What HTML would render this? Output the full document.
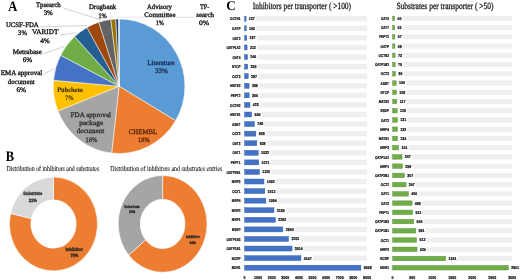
<!DOCTYPE html>
<html><head><meta charset="utf-8"><style>
html,body{margin:0;padding:0;background:#fff;width:520px;height:280px;overflow:hidden}
svg{display:block;will-change:transform}
text{text-rendering:geometricPrecision}
.serif{font-family:"Liberation Serif",serif}
.sans{font-family:"Liberation Sans",sans-serif}
</style></head><body>
<svg width="520" height="280" viewBox="0 0 520 280">
<path d="M119.10,86.20 L119.10,18.90 A65.80,67.30 0 0 1 175.63,120.64 Z" fill="#5B9BD5" stroke="#fff" stroke-width="0.5" stroke-linejoin="round"/>
<path d="M119.10,86.20 L175.63,120.64 A65.80,67.30 0 0 1 111.67,153.07 Z" fill="#ED7D31" stroke="#fff" stroke-width="0.5" stroke-linejoin="round"/>
<path d="M119.10,86.20 L111.67,153.07 A65.80,67.30 0 0 1 57.92,110.97 Z" fill="#A5A5A5" stroke="#fff" stroke-width="0.5" stroke-linejoin="round"/>
<path d="M119.10,86.20 L57.92,110.97 A65.80,67.30 0 0 1 53.55,80.29 Z" fill="#FFC000" stroke="#fff" stroke-width="0.5" stroke-linejoin="round"/>
<path d="M119.10,86.20 L53.55,80.29 A65.80,67.30 0 0 1 60.66,55.27 Z" fill="#4472C4" stroke="#fff" stroke-width="0.5" stroke-linejoin="round"/>
<path d="M119.10,86.20 L60.66,55.27 A65.80,67.30 0 0 1 74.66,36.57 Z" fill="#70AD47" stroke="#fff" stroke-width="0.5" stroke-linejoin="round"/>
<path d="M119.10,86.20 L74.66,36.57 A65.80,67.30 0 0 1 87.04,27.43 Z" fill="#255E91" stroke="#fff" stroke-width="0.5" stroke-linejoin="round"/>
<path d="M119.10,86.20 L87.04,27.43 A65.80,67.30 0 0 1 98.77,22.19 Z" fill="#9E480E" stroke="#fff" stroke-width="0.5" stroke-linejoin="round"/>
<path d="M119.10,86.20 L98.77,22.19 A65.80,67.30 0 0 1 110.85,19.43 Z" fill="#636363" stroke="#fff" stroke-width="0.5" stroke-linejoin="round"/>
<path d="M119.10,86.20 L110.85,19.43 A65.80,67.30 0 0 1 115.79,18.99 Z" fill="#997300" stroke="#fff" stroke-width="0.5" stroke-linejoin="round"/>
<path d="M119.10,86.20 L115.79,18.99 A65.80,67.30 0 0 1 118.81,18.90 Z" fill="#264478" stroke="#fff" stroke-width="0.5" stroke-linejoin="round"/>
<path d="M119.10,86.20 L118.81,18.90 A65.80,67.30 0 0 1 119.10,18.90 Z" fill="#FFFFFF" stroke="#fff" stroke-width="0.5" stroke-linejoin="round"/>
<g stroke="#BDBDBD" stroke-width="0.7" fill="none">
<line x1="63" y1="8" x2="101" y2="20"/>
<line x1="39.5" y1="26.8" x2="87" y2="25.6"/>
<line x1="60" y1="35" x2="76" y2="32.8"/>
<line x1="43" y1="54" x2="64" y2="46.5"/>
<line x1="43.6" y1="74.3" x2="55" y2="67.9"/>
<line x1="118" y1="17.2" x2="144" y2="17.2" stroke="#DDDDDD"/>
<line x1="108.5" y1="16.9" x2="113" y2="17.4" stroke="#D8D8D8"/>
<line x1="175.8" y1="17.3" x2="194" y2="17.3" stroke="#D0D0D0"/>
</g>
<text transform="translate(12.70 10.60) scale(0.08681 0.1)" class="serif" font-size="144.0" fill="#000" text-anchor="middle" font-weight="bold">A</text>
<text transform="translate(9.95 160.50) scale(0.08603 0.1)" class="serif" font-size="144.0" fill="#000" text-anchor="middle" font-weight="bold">B</text>
<text transform="translate(231.05 10.40) scale(0.09743 0.1)" class="serif" font-size="134.0" fill="#000" text-anchor="middle" font-weight="bold">C</text>
<text transform="translate(48.30 7.35) scale(0.09741 0.1)" class="serif" font-size="69.0" fill="#1A1A1A" stroke="#1A1A1A" stroke-width="3.5" text-anchor="middle" font-weight="normal">Tpsearch</text>
<text transform="translate(48.25 15.40) scale(0.09916 0.1)" class="serif" font-size="69.0" fill="#1A1A1A" stroke="#1A1A1A" stroke-width="3.5" text-anchor="middle" font-weight="normal">3%</text>
<text transform="translate(102.60 9.00) scale(0.09928 0.1)" class="serif" font-size="69.0" fill="#1A1A1A" stroke="#1A1A1A" stroke-width="3.5" text-anchor="middle" font-weight="normal">Drugbank</text>
<text transform="translate(102.65 17.50) scale(0.09044 0.1)" class="serif" font-size="69.0" fill="#1A1A1A" stroke="#1A1A1A" stroke-width="3.5" text-anchor="middle" font-weight="normal">1%</text>
<text transform="translate(159.40 8.80) scale(0.09584 0.1)" class="serif" font-size="69.0" fill="#1A1A1A" stroke="#1A1A1A" stroke-width="3.5" text-anchor="middle" font-weight="normal">Advisory</text>
<text transform="translate(159.90 16.50) scale(0.10249 0.1)" class="serif" font-size="69.0" fill="#1A1A1A" stroke="#1A1A1A" stroke-width="3.5" text-anchor="middle" font-weight="normal">Committee</text>
<text transform="translate(159.90 25.20) scale(0.08935 0.1)" class="serif" font-size="69.0" fill="#1A1A1A" stroke="#1A1A1A" stroke-width="3.5" text-anchor="middle" font-weight="normal">1%</text>
<text transform="translate(204.60 8.80) scale(0.08889 0.1)" class="serif" font-size="69.0" fill="#1A1A1A" stroke="#1A1A1A" stroke-width="3.5" text-anchor="middle" font-weight="normal">TP-</text>
<text transform="translate(205.10 16.80) scale(0.10117 0.1)" class="serif" font-size="69.0" fill="#1A1A1A" stroke="#1A1A1A" stroke-width="3.5" text-anchor="middle" font-weight="normal">search</text>
<text transform="translate(204.10 25.30) scale(0.11115 0.1)" class="serif" font-size="69.0" fill="#1A1A1A" stroke="#1A1A1A" stroke-width="3.5" text-anchor="middle" font-weight="normal">0%</text>
<text transform="translate(22.30 27.10) scale(0.09842 0.1)" class="serif" font-size="69.0" fill="#1A1A1A" stroke="#1A1A1A" stroke-width="3.5" text-anchor="middle" font-weight="normal">UCSF-FDA</text>
<text transform="translate(22.50 35.00) scale(0.09589 0.1)" class="serif" font-size="69.0" fill="#1A1A1A" stroke="#1A1A1A" stroke-width="3.5" text-anchor="middle" font-weight="normal">3%</text>
<text transform="translate(45.15 34.40) scale(0.10522 0.1)" class="serif" font-size="69.0" fill="#1A1A1A" stroke="#1A1A1A" stroke-width="3.5" text-anchor="middle" font-weight="normal">VARIDT</text>
<text transform="translate(45.00 43.00) scale(0.10461 0.1)" class="serif" font-size="69.0" fill="#1A1A1A" stroke="#1A1A1A" stroke-width="3.5" text-anchor="middle" font-weight="normal">4%</text>
<text transform="translate(27.25 54.00) scale(0.10138 0.1)" class="serif" font-size="69.0" fill="#1A1A1A" stroke="#1A1A1A" stroke-width="3.5" text-anchor="middle" font-weight="normal">Metrabase</text>
<text transform="translate(27.50 61.80) scale(0.10461 0.1)" class="serif" font-size="69.0" fill="#1A1A1A" stroke="#1A1A1A" stroke-width="3.5" text-anchor="middle" font-weight="normal">6%</text>
<text transform="translate(21.50 75.30) scale(0.10184 0.1)" class="serif" font-size="69.0" fill="#1A1A1A" stroke="#1A1A1A" stroke-width="3.5" text-anchor="middle" font-weight="normal">EMA approval</text>
<text transform="translate(21.25 83.50) scale(0.09943 0.1)" class="serif" font-size="69.0" fill="#1A1A1A" stroke="#1A1A1A" stroke-width="3.5" text-anchor="middle" font-weight="normal">document</text>
<text transform="translate(21.25 91.80) scale(0.10461 0.1)" class="serif" font-size="69.0" fill="#1A1A1A" stroke="#1A1A1A" stroke-width="3.5" text-anchor="middle" font-weight="normal">6%</text>
<text transform="translate(160.95 65.00) scale(0.10042 0.1)" class="serif" font-size="69.0" fill="#17325A" stroke="#17325A" stroke-width="3.5" text-anchor="middle" font-weight="normal">Literature</text>
<text transform="translate(161.40 73.20) scale(0.10137 0.1)" class="serif" font-size="69.0" fill="#17325A" stroke="#17325A" stroke-width="3.5" text-anchor="middle" font-weight="normal">33%</text>
<text transform="translate(143.05 133.50) scale(0.09905 0.1)" class="serif" font-size="69.0" fill="#5A2206" stroke="#5A2206" stroke-width="3.0" text-anchor="middle" font-weight="normal">CHEMBL</text>
<text transform="translate(143.95 141.70) scale(0.09266 0.1)" class="serif" font-size="69.0" fill="#5A2206" stroke="#5A2206" stroke-width="3.0" text-anchor="middle" font-weight="normal">18%</text>
<text transform="translate(90.80 117.10) scale(0.10290 0.1)" class="serif" font-size="69.0" fill="#2E2E2E" stroke="#2E2E2E" stroke-width="3.0" text-anchor="middle" font-weight="normal">FDA approval</text>
<text transform="translate(91.20 125.10) scale(0.10604 0.1)" class="serif" font-size="69.0" fill="#2E2E2E" stroke="#2E2E2E" stroke-width="3.0" text-anchor="middle" font-weight="normal">package</text>
<text transform="translate(90.45 133.20) scale(0.10017 0.1)" class="serif" font-size="69.0" fill="#2E2E2E" stroke="#2E2E2E" stroke-width="3.0" text-anchor="middle" font-weight="normal">document</text>
<text transform="translate(91.40 141.80) scale(0.09187 0.1)" class="serif" font-size="69.0" fill="#2E2E2E" stroke="#2E2E2E" stroke-width="3.0" text-anchor="middle" font-weight="normal">18%</text>
<text transform="translate(69.95 92.00) scale(0.09239 0.1)" class="serif" font-size="69.0" fill="#3A2C00" stroke="#3A2C00" stroke-width="1.5" text-anchor="middle" font-weight="bold">Pubchem</text>
<text transform="translate(69.50 99.70) scale(0.08309 0.1)" class="serif" font-size="69.0" fill="#3A2C00" stroke="#3A2C00" stroke-width="1.5" text-anchor="middle" font-weight="bold">7%</text>
<path d="M53.50,177.10 A44.00,46.90 0 1 1 10.62,213.48 L31.43,218.58 A22.65,24.15 0 1 0 53.50,199.85 Z" fill="#ED7D31" stroke="#fff" stroke-width="0.6"/>
<path d="M10.62,213.48 A44.00,46.90 0 0 1 53.50,177.10 L53.50,199.85 A22.65,24.15 0 0 0 31.43,218.58 Z" fill="#D9D9D9" stroke="#fff" stroke-width="0.6"/>
<path d="M162.60,175.60 A44.40,48.30 0 1 1 128.75,255.15 L145.56,239.85 A22.35,24.65 0 1 0 162.60,199.25 Z" fill="#ED7D31" stroke="#fff" stroke-width="0.6"/>
<path d="M128.75,255.15 A44.40,48.30 0 0 1 162.60,175.60 L162.60,199.25 A22.35,24.65 0 0 0 145.56,239.85 Z" fill="#A5A5A5" stroke="#fff" stroke-width="0.6"/>
<text transform="translate(52.85 170.80) scale(0.07778 0.1)" class="serif" font-size="75.0" fill="#222" stroke="#222" stroke-width="1.2" text-anchor="middle" font-weight="normal">Distribution of inhibitors and substrates</text>
<text transform="translate(166.35 171.20) scale(0.07950 0.1)" class="serif" font-size="75.0" fill="#222" stroke="#222" stroke-width="1.2" text-anchor="middle" font-weight="normal">Distribution of inhibitors and substrates entries</text>
<text transform="translate(32.75 195.30) scale(0.08541 0.1)" class="sans" font-size="48.0" fill="#262626" stroke="#262626" stroke-width="3.0" text-anchor="middle" font-weight="bold">Substrate</text>
<text transform="translate(32.80 201.60) scale(0.08542 0.1)" class="sans" font-size="48.0" fill="#262626" stroke="#262626" stroke-width="3.0" text-anchor="middle" font-weight="bold">21%</text>
<text transform="translate(74.20 250.60) scale(0.09063 0.1)" class="sans" font-size="48.0" fill="#262626" stroke="#262626" stroke-width="3.0" text-anchor="middle" font-weight="bold">Inhibitor</text>
<text transform="translate(74.35 257.20) scale(0.08229 0.1)" class="sans" font-size="48.0" fill="#262626" stroke="#262626" stroke-width="3.0" text-anchor="middle" font-weight="bold">79%</text>
<text transform="translate(132.00 207.50) scale(0.08791 0.1)" class="sans" font-size="38.0" fill="#262626" stroke="#262626" stroke-width="3.0" text-anchor="middle" font-weight="bold">Substrate</text>
<text transform="translate(132.15 212.90) scale(0.08026 0.1)" class="sans" font-size="38.0" fill="#262626" stroke="#262626" stroke-width="3.0" text-anchor="middle" font-weight="bold">36%</text>
<text transform="translate(192.85 238.40) scale(0.09145 0.1)" class="sans" font-size="38.0" fill="#262626" stroke="#262626" stroke-width="3.0" text-anchor="middle" font-weight="bold">Inhibitor</text>
<text transform="translate(192.65 243.70) scale(0.08289 0.1)" class="sans" font-size="38.0" fill="#262626" stroke="#262626" stroke-width="3.0" text-anchor="middle" font-weight="bold">64%</text>
<rect x="256.02" y="16.05" width="110.98" height="5.40" fill="#EFEFEF"/>
<rect x="244.60" y="16.25" width="1.47" height="5.00" fill="#4472C4" stroke="#3462B0" stroke-width="0.45"/>
<rect x="256.20" y="25.62" width="110.80" height="5.40" fill="#EFEFEF"/>
<rect x="244.60" y="25.82" width="1.64" height="5.00" fill="#4472C4" stroke="#3462B0" stroke-width="0.45"/>
<rect x="256.70" y="35.20" width="110.30" height="5.40" fill="#EFEFEF"/>
<rect x="244.60" y="35.40" width="2.15" height="5.00" fill="#4472C4" stroke="#3462B0" stroke-width="0.45"/>
<rect x="257.04" y="44.77" width="109.96" height="5.40" fill="#EFEFEF"/>
<rect x="244.60" y="44.97" width="2.49" height="5.00" fill="#4472C4" stroke="#3462B0" stroke-width="0.45"/>
<rect x="257.51" y="54.35" width="109.49" height="5.40" fill="#EFEFEF"/>
<rect x="244.60" y="54.55" width="2.95" height="5.00" fill="#4472C4" stroke="#3462B0" stroke-width="0.45"/>
<rect x="257.63" y="63.92" width="109.37" height="5.40" fill="#EFEFEF"/>
<rect x="244.60" y="64.12" width="3.07" height="5.00" fill="#4472C4" stroke="#3462B0" stroke-width="0.45"/>
<rect x="258.20" y="73.50" width="108.80" height="5.40" fill="#EFEFEF"/>
<rect x="244.60" y="73.70" width="3.65" height="5.00" fill="#4472C4" stroke="#3462B0" stroke-width="0.45"/>
<rect x="259.05" y="83.07" width="107.95" height="5.40" fill="#EFEFEF"/>
<rect x="244.60" y="83.27" width="4.49" height="5.00" fill="#4472C4" stroke="#3462B0" stroke-width="0.45"/>
<rect x="259.14" y="92.65" width="107.86" height="5.40" fill="#EFEFEF"/>
<rect x="244.60" y="92.85" width="4.58" height="5.00" fill="#4472C4" stroke="#3462B0" stroke-width="0.45"/>
<rect x="259.92" y="102.22" width="107.08" height="5.40" fill="#EFEFEF"/>
<rect x="244.60" y="102.42" width="5.36" height="5.00" fill="#4472C4" stroke="#3462B0" stroke-width="0.45"/>
<rect x="261.58" y="111.80" width="105.42" height="5.40" fill="#EFEFEF"/>
<rect x="244.60" y="112.00" width="7.02" height="5.00" fill="#4472C4" stroke="#3462B0" stroke-width="0.45"/>
<rect x="264.36" y="121.37" width="102.64" height="5.40" fill="#EFEFEF"/>
<rect x="244.60" y="121.57" width="9.80" height="5.00" fill="#4472C4" stroke="#3462B0" stroke-width="0.45"/>
<rect x="265.84" y="130.95" width="101.16" height="5.40" fill="#EFEFEF"/>
<rect x="244.60" y="131.15" width="11.29" height="5.00" fill="#4472C4" stroke="#3462B0" stroke-width="0.45"/>
<rect x="266.80" y="140.53" width="100.20" height="5.40" fill="#EFEFEF"/>
<rect x="244.60" y="140.72" width="12.24" height="5.00" fill="#4472C4" stroke="#3462B0" stroke-width="0.45"/>
<rect x="270.20" y="150.10" width="96.80" height="5.40" fill="#EFEFEF"/>
<rect x="244.60" y="150.30" width="13.66" height="5.00" fill="#4472C4" stroke="#3462B0" stroke-width="0.45"/>
<rect x="270.73" y="159.68" width="96.27" height="5.40" fill="#EFEFEF"/>
<rect x="244.60" y="159.88" width="14.19" height="5.00" fill="#4472C4" stroke="#3462B0" stroke-width="0.45"/>
<rect x="271.28" y="169.25" width="95.72" height="5.40" fill="#EFEFEF"/>
<rect x="244.60" y="169.45" width="14.94" height="5.00" fill="#4472C4" stroke="#3462B0" stroke-width="0.45"/>
<rect x="275.92" y="178.82" width="91.08" height="5.40" fill="#EFEFEF"/>
<rect x="244.60" y="179.02" width="19.38" height="5.00" fill="#4472C4" stroke="#3462B0" stroke-width="0.45"/>
<rect x="276.73" y="188.40" width="90.27" height="5.40" fill="#EFEFEF"/>
<rect x="244.60" y="188.60" width="20.19" height="5.00" fill="#4472C4" stroke="#3462B0" stroke-width="0.45"/>
<rect x="277.85" y="197.97" width="89.15" height="5.40" fill="#EFEFEF"/>
<rect x="244.60" y="198.17" width="21.31" height="5.00" fill="#4472C4" stroke="#3462B0" stroke-width="0.45"/>
<rect x="285.90" y="207.55" width="81.10" height="5.40" fill="#EFEFEF"/>
<rect x="244.60" y="207.75" width="29.36" height="5.00" fill="#4472C4" stroke="#3462B0" stroke-width="0.45"/>
<rect x="287.36" y="217.12" width="79.64" height="5.40" fill="#EFEFEF"/>
<rect x="244.60" y="217.32" width="30.82" height="5.00" fill="#4472C4" stroke="#3462B0" stroke-width="0.45"/>
<rect x="294.82" y="226.70" width="72.18" height="5.40" fill="#EFEFEF"/>
<rect x="244.60" y="226.90" width="38.28" height="5.00" fill="#4472C4" stroke="#3462B0" stroke-width="0.45"/>
<rect x="300.56" y="236.28" width="66.44" height="5.40" fill="#EFEFEF"/>
<rect x="244.60" y="236.47" width="44.01" height="5.00" fill="#4472C4" stroke="#3462B0" stroke-width="0.45"/>
<rect x="304.00" y="245.85" width="63.00" height="5.40" fill="#EFEFEF"/>
<rect x="244.60" y="246.05" width="47.46" height="5.00" fill="#4472C4" stroke="#3462B0" stroke-width="0.45"/>
<rect x="312.90" y="255.43" width="54.10" height="5.40" fill="#EFEFEF"/>
<rect x="244.60" y="255.62" width="56.35" height="5.00" fill="#4472C4" stroke="#3462B0" stroke-width="0.45"/>
<rect x="372.84" y="265.00" width="-5.84" height="5.40" fill="#EFEFEF"/>
<rect x="244.60" y="265.20" width="116.30" height="5.00" fill="#4472C4" stroke="#3462B0" stroke-width="0.45"/>
<text transform="translate(240.50 20.35) scale(0.07400 0.1)" class="sans" font-size="42.0" fill="#111" stroke="#111" stroke-width="2.2" text-anchor="end" font-weight="bold">OCTN1</text>
<text transform="translate(248.87 20.15) scale(0.08500 0.1)" class="sans" font-size="42.0" fill="#111" stroke="#111" stroke-width="2.2" text-anchor="start" font-weight="bold">137</text>
<text transform="translate(240.50 29.93) scale(0.07400 0.1)" class="sans" font-size="42.0" fill="#111" stroke="#111" stroke-width="2.2" text-anchor="end" font-weight="bold">OATP</text>
<text transform="translate(249.04 29.72) scale(0.08500 0.1)" class="sans" font-size="42.0" fill="#111" stroke="#111" stroke-width="2.2" text-anchor="start" font-weight="bold">150</text>
<text transform="translate(240.50 39.50) scale(0.07400 0.1)" class="sans" font-size="42.0" fill="#111" stroke="#111" stroke-width="2.2" text-anchor="end" font-weight="bold">OAT2</text>
<text transform="translate(249.55 39.30) scale(0.08500 0.1)" class="sans" font-size="42.0" fill="#111" stroke="#111" stroke-width="2.2" text-anchor="start" font-weight="bold">187</text>
<text transform="translate(240.50 49.07) scale(0.07400 0.1)" class="sans" font-size="42.0" fill="#111" stroke="#111" stroke-width="2.2" text-anchor="end" font-weight="bold">OATP1A2</text>
<text transform="translate(249.89 48.87) scale(0.08500 0.1)" class="sans" font-size="42.0" fill="#111" stroke="#111" stroke-width="2.2" text-anchor="start" font-weight="bold">212</text>
<text transform="translate(240.50 58.65) scale(0.07400 0.1)" class="sans" font-size="42.0" fill="#111" stroke="#111" stroke-width="2.2" text-anchor="end" font-weight="bold">OAT4</text>
<text transform="translate(250.35 58.45) scale(0.08500 0.1)" class="sans" font-size="42.0" fill="#111" stroke="#111" stroke-width="2.2" text-anchor="start" font-weight="bold">246</text>
<text transform="translate(240.50 68.22) scale(0.07400 0.1)" class="sans" font-size="42.0" fill="#111" stroke="#111" stroke-width="2.2" text-anchor="end" font-weight="bold">NTCP</text>
<text transform="translate(250.47 68.03) scale(0.08500 0.1)" class="sans" font-size="42.0" fill="#111" stroke="#111" stroke-width="2.2" text-anchor="start" font-weight="bold">255</text>
<text transform="translate(240.50 77.80) scale(0.07400 0.1)" class="sans" font-size="42.0" fill="#111" stroke="#111" stroke-width="2.2" text-anchor="end" font-weight="bold">OCT3</text>
<text transform="translate(251.05 77.60) scale(0.08500 0.1)" class="sans" font-size="42.0" fill="#111" stroke="#111" stroke-width="2.2" text-anchor="start" font-weight="bold">297</text>
<text transform="translate(240.50 87.37) scale(0.07400 0.1)" class="sans" font-size="42.0" fill="#111" stroke="#111" stroke-width="2.2" text-anchor="end" font-weight="bold">MATE2</text>
<text transform="translate(251.89 87.17) scale(0.08500 0.1)" class="sans" font-size="42.0" fill="#111" stroke="#111" stroke-width="2.2" text-anchor="start" font-weight="bold">359</text>
<text transform="translate(240.50 96.95) scale(0.07400 0.1)" class="sans" font-size="42.0" fill="#111" stroke="#111" stroke-width="2.2" text-anchor="end" font-weight="bold">PEPT2</text>
<text transform="translate(251.98 96.75) scale(0.08500 0.1)" class="sans" font-size="42.0" fill="#111" stroke="#111" stroke-width="2.2" text-anchor="start" font-weight="bold">366</text>
<text transform="translate(240.50 106.52) scale(0.07400 0.1)" class="sans" font-size="42.0" fill="#111" stroke="#111" stroke-width="2.2" text-anchor="end" font-weight="bold">OCTN2</text>
<text transform="translate(252.76 106.33) scale(0.08500 0.1)" class="sans" font-size="42.0" fill="#111" stroke="#111" stroke-width="2.2" text-anchor="start" font-weight="bold">423</text>
<text transform="translate(240.50 116.10) scale(0.07400 0.1)" class="sans" font-size="42.0" fill="#111" stroke="#111" stroke-width="2.2" text-anchor="end" font-weight="bold">MATE1</text>
<text transform="translate(254.42 115.90) scale(0.08500 0.1)" class="sans" font-size="42.0" fill="#111" stroke="#111" stroke-width="2.2" text-anchor="start" font-weight="bold">545</text>
<text transform="translate(240.50 125.67) scale(0.07400 0.1)" class="sans" font-size="42.0" fill="#111" stroke="#111" stroke-width="2.2" text-anchor="end" font-weight="bold">ASBT</text>
<text transform="translate(257.20 125.47) scale(0.08500 0.1)" class="sans" font-size="42.0" fill="#111" stroke="#111" stroke-width="2.2" text-anchor="start" font-weight="bold">749</text>
<text transform="translate(240.50 135.25) scale(0.07400 0.1)" class="sans" font-size="42.0" fill="#111" stroke="#111" stroke-width="2.2" text-anchor="end" font-weight="bold">OCT2</text>
<text transform="translate(258.69 135.05) scale(0.08500 0.1)" class="sans" font-size="42.0" fill="#111" stroke="#111" stroke-width="2.2" text-anchor="start" font-weight="bold">858</text>
<text transform="translate(240.50 144.82) scale(0.07400 0.1)" class="sans" font-size="42.0" fill="#111" stroke="#111" stroke-width="2.2" text-anchor="end" font-weight="bold">OAT3</text>
<text transform="translate(259.64 144.62) scale(0.08500 0.1)" class="sans" font-size="42.0" fill="#111" stroke="#111" stroke-width="2.2" text-anchor="start" font-weight="bold">928</text>
<text transform="translate(240.50 154.40) scale(0.07400 0.1)" class="sans" font-size="42.0" fill="#111" stroke="#111" stroke-width="2.2" text-anchor="end" font-weight="bold">OAT1</text>
<text transform="translate(261.06 154.20) scale(0.08500 0.1)" class="sans" font-size="42.0" fill="#111" stroke="#111" stroke-width="2.2" text-anchor="start" font-weight="bold">1032</text>
<text transform="translate(240.50 163.97) scale(0.07400 0.1)" class="sans" font-size="42.0" fill="#111" stroke="#111" stroke-width="2.2" text-anchor="end" font-weight="bold">PEPT1</text>
<text transform="translate(261.59 163.78) scale(0.08500 0.1)" class="sans" font-size="42.0" fill="#111" stroke="#111" stroke-width="2.2" text-anchor="start" font-weight="bold">1071</text>
<text transform="translate(240.50 173.55) scale(0.07400 0.1)" class="sans" font-size="42.0" fill="#111" stroke="#111" stroke-width="2.2" text-anchor="end" font-weight="bold">OATP2B1</text>
<text transform="translate(262.34 173.35) scale(0.08500 0.1)" class="sans" font-size="42.0" fill="#111" stroke="#111" stroke-width="2.2" text-anchor="start" font-weight="bold">1126</text>
<text transform="translate(240.50 183.12) scale(0.07400 0.1)" class="sans" font-size="42.0" fill="#111" stroke="#111" stroke-width="2.2" text-anchor="end" font-weight="bold">MRP3</text>
<text transform="translate(266.78 182.92) scale(0.08500 0.1)" class="sans" font-size="42.0" fill="#111" stroke="#111" stroke-width="2.2" text-anchor="start" font-weight="bold">1452</text>
<text transform="translate(240.50 192.70) scale(0.07400 0.1)" class="sans" font-size="42.0" fill="#111" stroke="#111" stroke-width="2.2" text-anchor="end" font-weight="bold">OCT1</text>
<text transform="translate(267.59 192.50) scale(0.08500 0.1)" class="sans" font-size="42.0" fill="#111" stroke="#111" stroke-width="2.2" text-anchor="start" font-weight="bold">1512</text>
<text transform="translate(240.50 202.27) scale(0.07400 0.1)" class="sans" font-size="42.0" fill="#111" stroke="#111" stroke-width="2.2" text-anchor="end" font-weight="bold">MRP4</text>
<text transform="translate(268.71 202.07) scale(0.08500 0.1)" class="sans" font-size="42.0" fill="#111" stroke="#111" stroke-width="2.2" text-anchor="start" font-weight="bold">1594</text>
<text transform="translate(240.50 211.85) scale(0.07400 0.1)" class="sans" font-size="42.0" fill="#111" stroke="#111" stroke-width="2.2" text-anchor="end" font-weight="bold">MRP2</text>
<text transform="translate(276.76 211.65) scale(0.08500 0.1)" class="sans" font-size="42.0" fill="#111" stroke="#111" stroke-width="2.2" text-anchor="start" font-weight="bold">2185</text>
<text transform="translate(240.50 221.42) scale(0.07400 0.1)" class="sans" font-size="42.0" fill="#111" stroke="#111" stroke-width="2.2" text-anchor="end" font-weight="bold">MRP1</text>
<text transform="translate(278.22 221.22) scale(0.08500 0.1)" class="sans" font-size="42.0" fill="#111" stroke="#111" stroke-width="2.2" text-anchor="start" font-weight="bold">2292</text>
<text transform="translate(240.50 231.00) scale(0.07400 0.1)" class="sans" font-size="42.0" fill="#111" stroke="#111" stroke-width="2.2" text-anchor="end" font-weight="bold">BSEP</text>
<text transform="translate(285.68 230.80) scale(0.08500 0.1)" class="sans" font-size="42.0" fill="#111" stroke="#111" stroke-width="2.2" text-anchor="start" font-weight="bold">2840</text>
<text transform="translate(240.50 240.57) scale(0.07400 0.1)" class="sans" font-size="42.0" fill="#111" stroke="#111" stroke-width="2.2" text-anchor="end" font-weight="bold">OATP1B3</text>
<text transform="translate(291.41 240.38) scale(0.08500 0.1)" class="sans" font-size="42.0" fill="#111" stroke="#111" stroke-width="2.2" text-anchor="start" font-weight="bold">3261</text>
<text transform="translate(240.50 250.15) scale(0.07400 0.1)" class="sans" font-size="42.0" fill="#111" stroke="#111" stroke-width="2.2" text-anchor="end" font-weight="bold">OATP1B1</text>
<text transform="translate(294.86 249.95) scale(0.08500 0.1)" class="sans" font-size="42.0" fill="#111" stroke="#111" stroke-width="2.2" text-anchor="start" font-weight="bold">3514</text>
<text transform="translate(240.50 259.73) scale(0.07400 0.1)" class="sans" font-size="42.0" fill="#111" stroke="#111" stroke-width="2.2" text-anchor="end" font-weight="bold">BCRP</text>
<text transform="translate(303.75 259.52) scale(0.08500 0.1)" class="sans" font-size="42.0" fill="#111" stroke="#111" stroke-width="2.2" text-anchor="start" font-weight="bold">4167</text>
<text transform="translate(240.50 269.30) scale(0.07400 0.1)" class="sans" font-size="42.0" fill="#111" stroke="#111" stroke-width="2.2" text-anchor="end" font-weight="bold">MDR1</text>
<text transform="translate(363.70 269.10) scale(0.08500 0.1)" class="sans" font-size="42.0" fill="#111" stroke="#111" stroke-width="2.2" text-anchor="start" font-weight="bold">8568</text>
<text transform="translate(244.40 278.90) scale(0.08500 0.1)" class="sans" font-size="42.0" fill="#111" stroke="#111" stroke-width="2.2" text-anchor="middle" font-weight="bold">0</text>
<text transform="translate(258.02 278.90) scale(0.08500 0.1)" class="sans" font-size="42.0" fill="#111" stroke="#111" stroke-width="2.2" text-anchor="middle" font-weight="bold">1000</text>
<text transform="translate(271.64 278.90) scale(0.08500 0.1)" class="sans" font-size="42.0" fill="#111" stroke="#111" stroke-width="2.2" text-anchor="middle" font-weight="bold">2000</text>
<text transform="translate(285.26 278.90) scale(0.08500 0.1)" class="sans" font-size="42.0" fill="#111" stroke="#111" stroke-width="2.2" text-anchor="middle" font-weight="bold">3000</text>
<text transform="translate(298.88 278.90) scale(0.08500 0.1)" class="sans" font-size="42.0" fill="#111" stroke="#111" stroke-width="2.2" text-anchor="middle" font-weight="bold">4000</text>
<text transform="translate(312.50 278.90) scale(0.08500 0.1)" class="sans" font-size="42.0" fill="#111" stroke="#111" stroke-width="2.2" text-anchor="middle" font-weight="bold">5000</text>
<text transform="translate(326.12 278.90) scale(0.08500 0.1)" class="sans" font-size="42.0" fill="#111" stroke="#111" stroke-width="2.2" text-anchor="middle" font-weight="bold">6000</text>
<text transform="translate(339.74 278.90) scale(0.08500 0.1)" class="sans" font-size="42.0" fill="#111" stroke="#111" stroke-width="2.2" text-anchor="middle" font-weight="bold">7000</text>
<text transform="translate(353.36 278.90) scale(0.08500 0.1)" class="sans" font-size="42.0" fill="#111" stroke="#111" stroke-width="2.2" text-anchor="middle" font-weight="bold">8000</text>
<text transform="translate(366.98 278.90) scale(0.08500 0.1)" class="sans" font-size="42.0" fill="#111" stroke="#111" stroke-width="2.2" text-anchor="middle" font-weight="bold">9000</text>
<rect x="402.56" y="15.95" width="109.44" height="4.90" fill="#EFEFEF"/>
<rect x="392.60" y="16.15" width="1.99" height="4.50" fill="#70AD47" stroke="#58923A" stroke-width="0.45"/>
<rect x="402.68" y="25.18" width="109.32" height="4.90" fill="#EFEFEF"/>
<rect x="392.60" y="25.38" width="2.11" height="4.50" fill="#70AD47" stroke="#58923A" stroke-width="0.45"/>
<rect x="402.84" y="34.42" width="109.16" height="4.90" fill="#EFEFEF"/>
<rect x="392.60" y="34.62" width="2.27" height="4.50" fill="#70AD47" stroke="#58923A" stroke-width="0.45"/>
<rect x="402.92" y="43.65" width="109.08" height="4.90" fill="#EFEFEF"/>
<rect x="392.60" y="43.85" width="2.35" height="4.50" fill="#70AD47" stroke="#58923A" stroke-width="0.45"/>
<rect x="403.08" y="52.89" width="108.92" height="4.90" fill="#EFEFEF"/>
<rect x="392.60" y="53.09" width="2.51" height="4.50" fill="#70AD47" stroke="#58923A" stroke-width="0.45"/>
<rect x="403.16" y="62.12" width="108.84" height="4.90" fill="#EFEFEF"/>
<rect x="392.60" y="62.32" width="2.59" height="4.50" fill="#70AD47" stroke="#58923A" stroke-width="0.45"/>
<rect x="403.60" y="71.36" width="108.40" height="4.90" fill="#EFEFEF"/>
<rect x="392.60" y="71.56" width="3.03" height="4.50" fill="#70AD47" stroke="#58923A" stroke-width="0.45"/>
<rect x="406.15" y="80.59" width="105.85" height="4.90" fill="#EFEFEF"/>
<rect x="392.60" y="80.79" width="3.59" height="4.50" fill="#70AD47" stroke="#58923A" stroke-width="0.45"/>
<rect x="406.46" y="89.83" width="105.54" height="4.90" fill="#EFEFEF"/>
<rect x="392.60" y="90.03" width="3.91" height="4.50" fill="#70AD47" stroke="#58923A" stroke-width="0.45"/>
<rect x="406.63" y="99.06" width="105.37" height="4.90" fill="#EFEFEF"/>
<rect x="392.60" y="99.26" width="4.27" height="4.50" fill="#70AD47" stroke="#58923A" stroke-width="0.45"/>
<rect x="407.14" y="108.30" width="104.86" height="4.90" fill="#EFEFEF"/>
<rect x="392.60" y="108.50" width="4.59" height="4.50" fill="#70AD47" stroke="#58923A" stroke-width="0.45"/>
<rect x="407.38" y="117.53" width="104.62" height="4.90" fill="#EFEFEF"/>
<rect x="392.60" y="117.73" width="4.83" height="4.50" fill="#70AD47" stroke="#58923A" stroke-width="0.45"/>
<rect x="407.42" y="126.77" width="104.58" height="4.90" fill="#EFEFEF"/>
<rect x="392.60" y="126.97" width="4.87" height="4.50" fill="#70AD47" stroke="#58923A" stroke-width="0.45"/>
<rect x="407.50" y="136.00" width="104.50" height="4.90" fill="#EFEFEF"/>
<rect x="392.60" y="136.20" width="4.95" height="4.50" fill="#70AD47" stroke="#58923A" stroke-width="0.45"/>
<rect x="408.58" y="145.24" width="103.42" height="4.90" fill="#EFEFEF"/>
<rect x="392.60" y="145.44" width="6.02" height="4.50" fill="#70AD47" stroke="#58923A" stroke-width="0.45"/>
<rect x="412.01" y="154.47" width="99.99" height="4.90" fill="#EFEFEF"/>
<rect x="392.60" y="154.67" width="9.46" height="4.50" fill="#70AD47" stroke="#58923A" stroke-width="0.45"/>
<rect x="412.49" y="163.71" width="99.51" height="4.90" fill="#EFEFEF"/>
<rect x="392.60" y="163.91" width="9.93" height="4.50" fill="#70AD47" stroke="#58923A" stroke-width="0.45"/>
<rect x="414.41" y="172.95" width="97.59" height="4.90" fill="#EFEFEF"/>
<rect x="392.60" y="173.15" width="11.85" height="4.50" fill="#70AD47" stroke="#58923A" stroke-width="0.45"/>
<rect x="416.00" y="182.18" width="96.00" height="4.90" fill="#EFEFEF"/>
<rect x="392.60" y="182.38" width="13.45" height="4.50" fill="#70AD47" stroke="#58923A" stroke-width="0.45"/>
<rect x="418.36" y="191.41" width="93.64" height="4.90" fill="#EFEFEF"/>
<rect x="392.60" y="191.61" width="15.80" height="4.50" fill="#70AD47" stroke="#58923A" stroke-width="0.45"/>
<rect x="422.03" y="200.65" width="89.97" height="4.90" fill="#EFEFEF"/>
<rect x="392.60" y="200.85" width="19.47" height="4.50" fill="#70AD47" stroke="#58923A" stroke-width="0.45"/>
<rect x="422.35" y="209.89" width="89.65" height="4.90" fill="#EFEFEF"/>
<rect x="392.60" y="210.09" width="19.99" height="4.50" fill="#70AD47" stroke="#58923A" stroke-width="0.45"/>
<rect x="423.70" y="219.12" width="88.30" height="4.90" fill="#EFEFEF"/>
<rect x="392.60" y="219.32" width="21.15" height="4.50" fill="#70AD47" stroke="#58923A" stroke-width="0.45"/>
<rect x="425.74" y="228.35" width="86.26" height="4.90" fill="#EFEFEF"/>
<rect x="392.60" y="228.55" width="23.18" height="4.50" fill="#70AD47" stroke="#58923A" stroke-width="0.45"/>
<rect x="426.57" y="237.59" width="85.43" height="4.90" fill="#EFEFEF"/>
<rect x="392.60" y="237.79" width="24.02" height="4.50" fill="#70AD47" stroke="#58923A" stroke-width="0.45"/>
<rect x="427.05" y="246.83" width="84.95" height="4.90" fill="#EFEFEF"/>
<rect x="392.60" y="247.03" width="24.50" height="4.50" fill="#70AD47" stroke="#58923A" stroke-width="0.45"/>
<rect x="457.65" y="256.06" width="54.35" height="4.90" fill="#EFEFEF"/>
<rect x="392.60" y="256.26" width="53.11" height="4.50" fill="#70AD47" stroke="#58923A" stroke-width="0.45"/>
<rect x="520.09" y="265.29" width="-8.09" height="4.90" fill="#EFEFEF"/>
<rect x="392.60" y="265.49" width="115.75" height="4.50" fill="#70AD47" stroke="#58923A" stroke-width="0.45"/>
<text transform="translate(389.00 20.00) scale(0.07400 0.1)" class="sans" font-size="42.0" fill="#111" stroke="#111" stroke-width="2.2" text-anchor="end" font-weight="bold">OAT4</text>
<text transform="translate(397.39 19.80) scale(0.08500 0.1)" class="sans" font-size="42.0" fill="#111" stroke="#111" stroke-width="2.2" text-anchor="start" font-weight="bold">60</text>
<text transform="translate(389.00 29.23) scale(0.07400 0.1)" class="sans" font-size="42.0" fill="#111" stroke="#111" stroke-width="2.2" text-anchor="end" font-weight="bold">OAT7</text>
<text transform="translate(397.51 29.03) scale(0.08500 0.1)" class="sans" font-size="42.0" fill="#111" stroke="#111" stroke-width="2.2" text-anchor="start" font-weight="bold">63</text>
<text transform="translate(389.00 38.47) scale(0.07400 0.1)" class="sans" font-size="42.0" fill="#111" stroke="#111" stroke-width="2.2" text-anchor="end" font-weight="bold">PEPT2</text>
<text transform="translate(397.67 38.27) scale(0.08500 0.1)" class="sans" font-size="42.0" fill="#111" stroke="#111" stroke-width="2.2" text-anchor="start" font-weight="bold">67</text>
<text transform="translate(389.00 47.70) scale(0.07400 0.1)" class="sans" font-size="42.0" fill="#111" stroke="#111" stroke-width="2.2" text-anchor="end" font-weight="bold">OATP</text>
<text transform="translate(397.75 47.50) scale(0.08500 0.1)" class="sans" font-size="42.0" fill="#111" stroke="#111" stroke-width="2.2" text-anchor="start" font-weight="bold">69</text>
<text transform="translate(389.00 56.94) scale(0.07400 0.1)" class="sans" font-size="42.0" fill="#111" stroke="#111" stroke-width="2.2" text-anchor="end" font-weight="bold">OCTN2</text>
<text transform="translate(397.91 56.74) scale(0.08500 0.1)" class="sans" font-size="42.0" fill="#111" stroke="#111" stroke-width="2.2" text-anchor="start" font-weight="bold">73</text>
<text transform="translate(389.00 66.17) scale(0.07400 0.1)" class="sans" font-size="42.0" fill="#111" stroke="#111" stroke-width="2.2" text-anchor="end" font-weight="bold">OATP1B2</text>
<text transform="translate(397.99 65.97) scale(0.08500 0.1)" class="sans" font-size="42.0" fill="#111" stroke="#111" stroke-width="2.2" text-anchor="start" font-weight="bold">75</text>
<text transform="translate(389.00 75.41) scale(0.07400 0.1)" class="sans" font-size="42.0" fill="#111" stroke="#111" stroke-width="2.2" text-anchor="end" font-weight="bold">OCT3</text>
<text transform="translate(398.43 75.21) scale(0.08500 0.1)" class="sans" font-size="42.0" fill="#111" stroke="#111" stroke-width="2.2" text-anchor="start" font-weight="bold">86</text>
<text transform="translate(389.00 84.64) scale(0.07400 0.1)" class="sans" font-size="42.0" fill="#111" stroke="#111" stroke-width="2.2" text-anchor="end" font-weight="bold">ASBT</text>
<text transform="translate(398.99 84.44) scale(0.08500 0.1)" class="sans" font-size="42.0" fill="#111" stroke="#111" stroke-width="2.2" text-anchor="start" font-weight="bold">100</text>
<text transform="translate(389.00 93.88) scale(0.07400 0.1)" class="sans" font-size="42.0" fill="#111" stroke="#111" stroke-width="2.2" text-anchor="end" font-weight="bold">NTCP</text>
<text transform="translate(399.31 93.68) scale(0.08500 0.1)" class="sans" font-size="42.0" fill="#111" stroke="#111" stroke-width="2.2" text-anchor="start" font-weight="bold">108</text>
<text transform="translate(389.00 103.11) scale(0.07400 0.1)" class="sans" font-size="42.0" fill="#111" stroke="#111" stroke-width="2.2" text-anchor="end" font-weight="bold">MATE2</text>
<text transform="translate(399.67 102.91) scale(0.08500 0.1)" class="sans" font-size="42.0" fill="#111" stroke="#111" stroke-width="2.2" text-anchor="start" font-weight="bold">117</text>
<text transform="translate(389.00 112.35) scale(0.07400 0.1)" class="sans" font-size="42.0" fill="#111" stroke="#111" stroke-width="2.2" text-anchor="end" font-weight="bold">BSEP</text>
<text transform="translate(399.99 112.15) scale(0.08500 0.1)" class="sans" font-size="42.0" fill="#111" stroke="#111" stroke-width="2.2" text-anchor="start" font-weight="bold">125</text>
<text transform="translate(389.00 121.58) scale(0.07400 0.1)" class="sans" font-size="42.0" fill="#111" stroke="#111" stroke-width="2.2" text-anchor="end" font-weight="bold">OAT2</text>
<text transform="translate(400.23 121.38) scale(0.08500 0.1)" class="sans" font-size="42.0" fill="#111" stroke="#111" stroke-width="2.2" text-anchor="start" font-weight="bold">131</text>
<text transform="translate(389.00 130.82) scale(0.07400 0.1)" class="sans" font-size="42.0" fill="#111" stroke="#111" stroke-width="2.2" text-anchor="end" font-weight="bold">MRP4</text>
<text transform="translate(400.27 130.62) scale(0.08500 0.1)" class="sans" font-size="42.0" fill="#111" stroke="#111" stroke-width="2.2" text-anchor="start" font-weight="bold">132</text>
<text transform="translate(389.00 140.05) scale(0.07400 0.1)" class="sans" font-size="42.0" fill="#111" stroke="#111" stroke-width="2.2" text-anchor="end" font-weight="bold">MATE1</text>
<text transform="translate(400.35 139.85) scale(0.08500 0.1)" class="sans" font-size="42.0" fill="#111" stroke="#111" stroke-width="2.2" text-anchor="start" font-weight="bold">134</text>
<text transform="translate(389.00 149.29) scale(0.07400 0.1)" class="sans" font-size="42.0" fill="#111" stroke="#111" stroke-width="2.2" text-anchor="end" font-weight="bold">MRP3</text>
<text transform="translate(401.42 149.09) scale(0.08500 0.1)" class="sans" font-size="42.0" fill="#111" stroke="#111" stroke-width="2.2" text-anchor="start" font-weight="bold">161</text>
<text transform="translate(389.00 158.52) scale(0.07400 0.1)" class="sans" font-size="42.0" fill="#111" stroke="#111" stroke-width="2.2" text-anchor="end" font-weight="bold">OATP1A2</text>
<text transform="translate(404.86 158.32) scale(0.08500 0.1)" class="sans" font-size="42.0" fill="#111" stroke="#111" stroke-width="2.2" text-anchor="start" font-weight="bold">247</text>
<text transform="translate(389.00 167.76) scale(0.07400 0.1)" class="sans" font-size="42.0" fill="#111" stroke="#111" stroke-width="2.2" text-anchor="end" font-weight="bold">MRP1</text>
<text transform="translate(405.33 167.56) scale(0.08500 0.1)" class="sans" font-size="42.0" fill="#111" stroke="#111" stroke-width="2.2" text-anchor="start" font-weight="bold">259</text>
<text transform="translate(389.00 177.00) scale(0.07400 0.1)" class="sans" font-size="42.0" fill="#111" stroke="#111" stroke-width="2.2" text-anchor="end" font-weight="bold">OATP2B1</text>
<text transform="translate(407.25 176.80) scale(0.08500 0.1)" class="sans" font-size="42.0" fill="#111" stroke="#111" stroke-width="2.2" text-anchor="start" font-weight="bold">307</text>
<text transform="translate(389.00 186.23) scale(0.07400 0.1)" class="sans" font-size="42.0" fill="#111" stroke="#111" stroke-width="2.2" text-anchor="end" font-weight="bold">OCT2</text>
<text transform="translate(408.85 186.03) scale(0.08500 0.1)" class="sans" font-size="42.0" fill="#111" stroke="#111" stroke-width="2.2" text-anchor="start" font-weight="bold">347</text>
<text transform="translate(389.00 195.46) scale(0.07400 0.1)" class="sans" font-size="42.0" fill="#111" stroke="#111" stroke-width="2.2" text-anchor="end" font-weight="bold">OAT1</text>
<text transform="translate(411.20 195.26) scale(0.08500 0.1)" class="sans" font-size="42.0" fill="#111" stroke="#111" stroke-width="2.2" text-anchor="start" font-weight="bold">406</text>
<text transform="translate(389.00 204.70) scale(0.07400 0.1)" class="sans" font-size="42.0" fill="#111" stroke="#111" stroke-width="2.2" text-anchor="end" font-weight="bold">OAT3</text>
<text transform="translate(414.87 204.50) scale(0.08500 0.1)" class="sans" font-size="42.0" fill="#111" stroke="#111" stroke-width="2.2" text-anchor="start" font-weight="bold">498</text>
<text transform="translate(389.00 213.94) scale(0.07400 0.1)" class="sans" font-size="42.0" fill="#111" stroke="#111" stroke-width="2.2" text-anchor="end" font-weight="bold">PEPT1</text>
<text transform="translate(415.39 213.74) scale(0.08500 0.1)" class="sans" font-size="42.0" fill="#111" stroke="#111" stroke-width="2.2" text-anchor="start" font-weight="bold">511</text>
<text transform="translate(389.00 223.17) scale(0.07400 0.1)" class="sans" font-size="42.0" fill="#111" stroke="#111" stroke-width="2.2" text-anchor="end" font-weight="bold">OATP1B3</text>
<text transform="translate(416.55 222.97) scale(0.08500 0.1)" class="sans" font-size="42.0" fill="#111" stroke="#111" stroke-width="2.2" text-anchor="start" font-weight="bold">540</text>
<text transform="translate(389.00 232.40) scale(0.07400 0.1)" class="sans" font-size="42.0" fill="#111" stroke="#111" stroke-width="2.2" text-anchor="end" font-weight="bold">OATP1B1</text>
<text transform="translate(418.58 232.20) scale(0.08500 0.1)" class="sans" font-size="42.0" fill="#111" stroke="#111" stroke-width="2.2" text-anchor="start" font-weight="bold">591</text>
<text transform="translate(389.00 241.64) scale(0.07400 0.1)" class="sans" font-size="42.0" fill="#111" stroke="#111" stroke-width="2.2" text-anchor="end" font-weight="bold">OCT1</text>
<text transform="translate(419.42 241.44) scale(0.08500 0.1)" class="sans" font-size="42.0" fill="#111" stroke="#111" stroke-width="2.2" text-anchor="start" font-weight="bold">612</text>
<text transform="translate(389.00 250.88) scale(0.07400 0.1)" class="sans" font-size="42.0" fill="#111" stroke="#111" stroke-width="2.2" text-anchor="end" font-weight="bold">MRP2</text>
<text transform="translate(419.90 250.68) scale(0.08500 0.1)" class="sans" font-size="42.0" fill="#111" stroke="#111" stroke-width="2.2" text-anchor="start" font-weight="bold">624</text>
<text transform="translate(389.00 260.11) scale(0.07400 0.1)" class="sans" font-size="42.0" fill="#111" stroke="#111" stroke-width="2.2" text-anchor="end" font-weight="bold">BCRP</text>
<text transform="translate(448.51 259.91) scale(0.08500 0.1)" class="sans" font-size="42.0" fill="#111" stroke="#111" stroke-width="2.2" text-anchor="start" font-weight="bold">1341</text>
<text transform="translate(389.00 269.34) scale(0.07400 0.1)" class="sans" font-size="42.0" fill="#111" stroke="#111" stroke-width="2.2" text-anchor="end" font-weight="bold">MDR1</text>
<text transform="translate(511.15 269.14) scale(0.08500 0.1)" class="sans" font-size="42.0" fill="#111" stroke="#111" stroke-width="2.2" text-anchor="start" font-weight="bold">2911</text>
<text transform="translate(392.40 278.90) scale(0.08500 0.1)" class="sans" font-size="42.0" fill="#111" stroke="#111" stroke-width="2.2" text-anchor="middle" font-weight="bold">0</text>
<text transform="translate(412.35 278.90) scale(0.08500 0.1)" class="sans" font-size="42.0" fill="#111" stroke="#111" stroke-width="2.2" text-anchor="middle" font-weight="bold">500</text>
<text transform="translate(432.30 278.90) scale(0.08500 0.1)" class="sans" font-size="42.0" fill="#111" stroke="#111" stroke-width="2.2" text-anchor="middle" font-weight="bold">1000</text>
<text transform="translate(452.25 278.90) scale(0.08500 0.1)" class="sans" font-size="42.0" fill="#111" stroke="#111" stroke-width="2.2" text-anchor="middle" font-weight="bold">1500</text>
<text transform="translate(472.20 278.90) scale(0.08500 0.1)" class="sans" font-size="42.0" fill="#111" stroke="#111" stroke-width="2.2" text-anchor="middle" font-weight="bold">2000</text>
<text transform="translate(492.15 278.90) scale(0.08500 0.1)" class="sans" font-size="42.0" fill="#111" stroke="#111" stroke-width="2.2" text-anchor="middle" font-weight="bold">2500</text>
<text transform="translate(512.10 278.90) scale(0.08500 0.1)" class="sans" font-size="42.0" fill="#111" stroke="#111" stroke-width="2.2" text-anchor="middle" font-weight="bold">3000</text>
<text transform="translate(301.90 8.70) scale(0.07825 0.1)" class="serif" font-size="95.0" fill="#222" stroke="#222" stroke-width="3.0" text-anchor="middle" font-weight="normal">Inhibitors per transporter ( &gt;100)</text>
<text transform="translate(445.00 8.70) scale(0.07893 0.1)" class="serif" font-size="95.0" fill="#222" stroke="#222" stroke-width="3.0" text-anchor="middle" font-weight="normal">Substrates per transporter ( &gt;50)</text>
</svg></body></html>
